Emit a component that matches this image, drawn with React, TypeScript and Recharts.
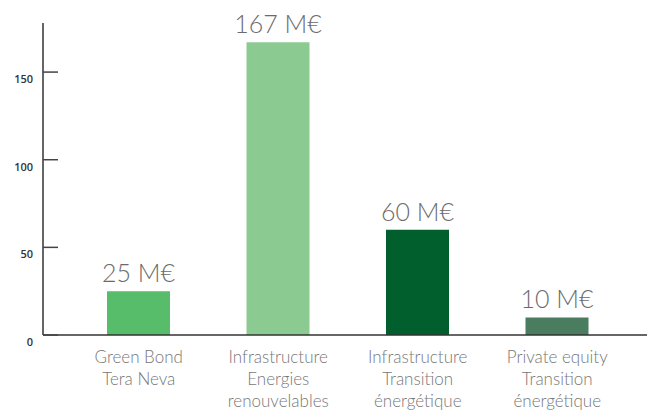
import React from "react";
import { BarChart, Bar, XAxis, YAxis, Cell, LabelList } from "recharts";

const categories = [
  "Green Bond\nTera Neva",
  "Infrastructure\nEnergies\nrenouvelables",
  "Infrastructure\nTransition\nénergétique",
  "Private equity\nTransition\nénergétique",
];
const amounts = [25, 167, 60, 10];
const colors = ["#57BD6A", "#8BCB91", "#005F2D", "#4A7C60"];
const yTicks = [0, 50, 100, 150];

const data = categories.map((name, i) => ({ name, value: amounts[i] }));

const XTick = (props: any) => {
  const { x, y, payload } = props;
  const lines = String(payload.value).split("\n");
  return (
    <text
      x={x}
      y={y}
      textAnchor="middle"
      fill="#777"
      fontSize={17}
      fontFamily="Lato, sans-serif"
      fontWeight={300}
    >
      {lines.map((l, i) => (
        <tspan key={i} x={x} dy={i === 0 ? 20 : 22}>
          {l}
        </tspan>
      ))}
    </text>
  );
};

const YTick = (props: any) => {
  const { x, y, payload } = props;
  return (
    <g>
      <line x1={x + 10} x2={x + 25} y1={y} y2={y} stroke="#444" strokeWidth={1.5} />
      <text
        x={x}
        y={y + 11}
        textAnchor="end"
        fill="#333"
        fontSize={11}
        fontWeight={600}
        fontFamily="'Open Sans', sans-serif"
      >
        {payload.value}
      </text>
    </g>
  );
};

export default function App() {
  return (
    <div style={{ position: "absolute", left: 0, top: 0 }}>
      <BarChart
        width={647}
        height={410}
        data={data}
        margin={{ top: 23, right: 0, bottom: 0, left: 0 }}
      >
        <XAxis
          dataKey="name"
          axisLine={{ stroke: "#333", strokeWidth: 1.5 }}
          tickLine={false}
          tick={<XTick />}
          height={75}
          padding={{ left: 26, right: 20 }}
          interval={0}
        />
        <YAxis
          domain={[0, 178]}
          ticks={yTicks}
          width={43}
          axisLine={{ stroke: "#333", strokeWidth: 1.5 }}
          tickLine={false}
          tickSize={0}
          tickMargin={10}
          tick={<YTick />}
          allowDataOverflow
        />
        <Bar dataKey="value" barSize={63} isAnimationActive={false}>
          {data.map((_d, i) => (
            <Cell key={`cell-${i}`} fill={colors[i]} />
          ))}
          <LabelList
            dataKey="value"
            position="top"
            offset={9}
            formatter={(v: any) => `${v} M€`}
            fill="#6b6b6b"
            fontSize={25}
            fontWeight={300}
            fontFamily="Lato, sans-serif"
          />
        </Bar>
      </BarChart>
    </div>
  );
}
